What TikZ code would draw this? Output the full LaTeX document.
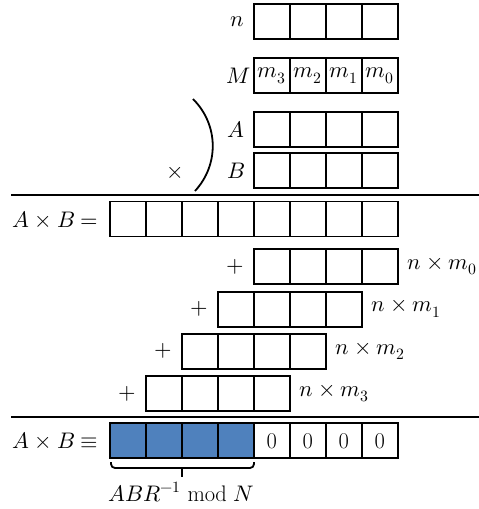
\documentclass[tikz,border=0pt]{standalone}
\usepackage{unicode-math}
\definecolor{cellblue}{HTML}{4F81BD}
\tikzset{
  cell/.style={draw, line width=1.8pt, minimum width=36pt, minimum height=35pt,
    inner sep=0pt, outer sep=0pt, font=\fontsize{22.5}{26}\selectfont},
  bluecell/.style={cell, fill=cellblue},
  lbl/.style={inner sep=0pt, font=\fontsize{22.5}{26}\selectfont},
  rulel/.style={line width=1.8pt},
  thick line/.style={line width=1.8pt},
}
\begin{document}
\begin{tikzpicture}[x=1pt,y=-1pt]
\useasboundingbox (0,0) rectangle (479,509);
% n row
\foreach \i in {0,...,3} \node[cell] (n\i) at (271.7+36*\i,21.5) {};
\node[lbl] (ln) at (237,21.5) {$n$};
% M row
\foreach \i in {0,...,3} {
  \pgfmathtruncatemacro{\k}{3-\i}
  \node[cell] (m\i) at (271.7+36*\i,75.7) {$m_{\k}$};
}
\node[lbl] (lm) at (239,75.7) {$M$};
% A, B rows
\foreach \i in {0,...,3} \node[cell] (a\i) at (271.7+36*\i,129.2) {};
\foreach \i in {0,...,3} \node[cell] (b\i) at (271.7+36*\i,170.8) {};
\node[lbl] (la) at (236,129.2) {$A$};
\node[lbl] (lb) at (236,170.8) {$B$};
\draw[thick line] (193,99) .. controls (219,125) and (219,165) .. (195,191);
\node[lbl] (times) at (175,173) {$\times$};
% rule 1
\draw[rulel] (11,195) -- (479,195);
% A x B row
\foreach \i in {0,...,7} \node[cell] (ab\i) at (127.7+36*\i,219) {};
\node[lbl, anchor=east] (lab) at ([xshift=-11pt]ab0.west) {$A\times B =$};
% partial products
\foreach \r/\x/\y/\s in {0/271.7/266.5/0, 1/235.7/309.2/1, 2/199.7/351.3/2, 3/163.7/393.7/3} {
  \foreach \i in {0,...,3} \node[cell] (p\r\i) at (\x+36*\i,\y) {};
  \node[lbl] (plus\r) at ([xshift=-18.5pt]p\r0.west) {$+$};
  \node[lbl, anchor=west] (pl\r) at ([xshift=10pt]p\r3.east) {$n\times m_{\s}$};
}
% rule 2
\draw[rulel] (11,416.7) -- (479,416.7);
% result row
\foreach \i in {0,...,3} \node[bluecell] (r\i) at (127.7+36*\i,440.8) {};
\foreach \i in {4,...,7} \node[cell] (r\i) at (127.7+36*\i,440.8) {0};
\node[lbl, anchor=east] (lres) at ([xshift=-11pt]r0.west) {$A\times B \equiv$};
% bracket
\coordinate (bl) at (111,462);
\coordinate (br) at (254,462);
\coordinate (bm) at (182,468);
\coordinate (bt) at (182,477);
\draw[thick line, rounded corners=4pt] (bl) -- (111,468) -- (254,468) -- (br);
\draw[thick line] (bm) -- (bt);
\node[lbl] (lmod) at (181,492) {$ABR^{-1}\bmod N$};
\end{tikzpicture}
\end{document}
